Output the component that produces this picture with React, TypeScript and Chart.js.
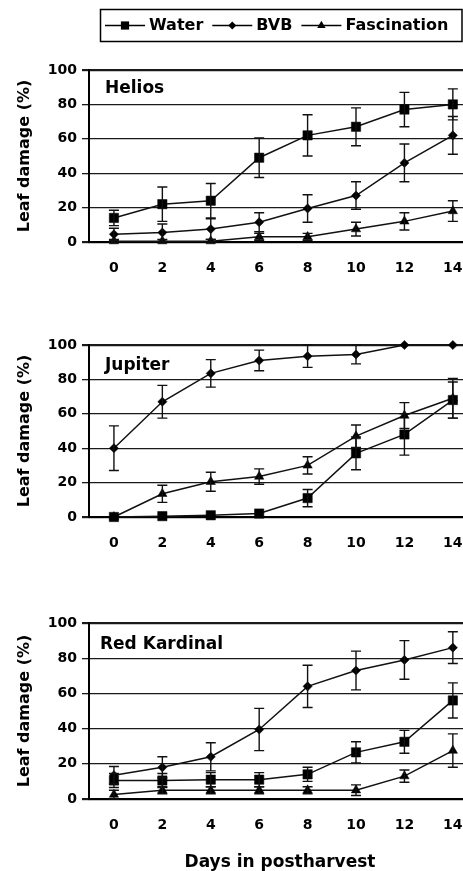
import React, { useEffect, useRef } from 'react';
import { Chart, registerables } from 'chart.js';
Chart.register(...registerables);

// ---------- data ----------
const days = [0, 2, 4, 6, 8, 10, 12, 14];
const yTicks = [0, 20, 40, 60, 80, 100];
const seriesNames = ['Water', 'BVB', 'Fascination'];
const panelNames = ['Helios', 'Jupiter', 'Red Kardinal'];
const xTitle = 'Days in postharvest';
const yTitle = 'Leaf damage (%)';

// Helios
const heliosWater = [14, 22, 24, 49, 62, 67, 77, 80];
const heliosWaterErr = [4.5, 10, 10, 11.5, 12, 11, 10, 9];
const heliosBVB = [4.5, 5.5, 7.5, 11.5, 19.5, 27, 46, 62];
const heliosBVBErr = [3.5, 5, 6, 5.5, 8, 8, 11, 11];
const heliosFasc = [0.5, 0.5, 0.5, 3, 3, 7.5, 12, 18];
const heliosFascErr = [1, 1, 1, 2, 2, 4, 5, 6];

// Jupiter
const jupiterWater = [0, 0.5, 1, 2, 11, 37, 48, 68];
const jupiterWaterErr = [0, 0, 0, 0, 5, 9.5, 12, 10.5];
const jupiterBVB = [40, 67, 83.5, 91, 93.5, 94.5, 100, 100];
const jupiterBVBErr = [13, 9.5, 8, 6, 6.5, 5.5, 0, 0];
const jupiterFasc = [0, 13.5, 20.5, 23.5, 30, 47, 59, 69];
const jupiterFascErr = [0, 5, 5.5, 4.5, 5, 6.5, 7.5, 11.5];

// Red Kardinal
const redWater = [10.5, 10.5, 11, 11, 14, 26.5, 32.5, 56];
const redWaterErr = [4, 4, 4, 4, 4, 6, 6.5, 10];
const redBVB = [13.5, 18, 24, 39.5, 64, 73, 79, 86];
const redBVBErr = [5, 6, 8, 12, 12, 11, 11, 9];
const redFasc = [2.5, 5, 5, 5, 5, 5, 13, 27.5];
const redFascErr = [2.5, 2, 2, 2, 2, 3, 3.5, 9.5];

// ---------- styles ----------
const FONT = '"DejaVu Sans", sans-serif';
const INK = '#111';
const pointStyles = ['rect', 'rectRot', 'triangle'];
const pointRadii = [6.6, 4.6, 5.4];
const legendRadii = [5.8, 4, 4.8];

type PanelCfg = {
  name: string;
  series: number[][];
  errors: number[][];
  top: number;
  height: number;
  padTop: number;
  axisH: number;
  nameDx: number;
  nameDy: number;
  legend: boolean;
  showXTitle: boolean;
};

const panels: PanelCfg[] = [
  {
    name: panelNames[0],
    series: [heliosWater, heliosBVB, heliosFasc],
    errors: [heliosWaterErr, heliosBVBErr, heliosFascErr],
    top: 0, height: 290, padTop: 70, axisH: 48, nameDx: 16, nameDy: 19,
    legend: true, showXTitle: false,
  },
  {
    name: panelNames[1],
    series: [jupiterWater, jupiterBVB, jupiterFasc],
    errors: [jupiterWaterErr, jupiterBVBErr, jupiterFascErr],
    top: 300, height: 260, padTop: 45, axisH: 43, nameDx: 16, nameDy: 21,
    legend: false, showXTitle: false,
  },
  {
    name: panelNames[2],
    series: [redWater, redBVB, redFasc],
    errors: [redWaterErr, redBVBErr, redFascErr],
    top: 600, height: 271, padTop: 23, axisH: 72, nameDx: 11, nameDy: 22,
    legend: false, showXTitle: true,
  },
];

function drawMarker(ctx: CanvasRenderingContext2D, style: string, x: number, y: number, r: number) {
  ctx.beginPath();
  if (style === 'rect') {
    const s = r * Math.SQRT1_2;
    ctx.rect(x - s, y - s, 2 * s, 2 * s);
  } else if (style === 'rectRot') {
    ctx.moveTo(x, y - r);
    ctx.lineTo(x + r, y);
    ctx.lineTo(x, y + r);
    ctx.lineTo(x - r, y);
    ctx.closePath();
  } else {
    ctx.moveTo(x, y - r);
    ctx.lineTo(x + r * 0.866, y + r * 0.5);
    ctx.lineTo(x - r * 0.866, y + r * 0.5);
    ctx.closePath();
  }
  ctx.fill();
}

const errorBarPlugin = {
  id: 'errorBars',
  afterDatasetsDraw(chart: any) {
    const ctx = chart.ctx as CanvasRenderingContext2D;
    const ys = chart.scales.y;
    ctx.save();
    ctx.strokeStyle = INK;
    ctx.lineWidth = 1.4;
    chart.data.datasets.forEach((ds: any, i: number) => {
      const meta = chart.getDatasetMeta(i);
      ds.data.forEach((pt: any, j: number) => {
        const e = ds.errorBars[j];
        if (!e) return;
        const x = meta.data[j].x;
        const y1 = ys.getPixelForValue(Math.min(100, pt.y + e));
        const y2 = ys.getPixelForValue(Math.max(0, pt.y - e));
        ctx.beginPath();
        ctx.moveTo(x, y1);
        ctx.lineTo(x, y2);
        ctx.moveTo(x - 5, y1);
        ctx.lineTo(x + 5, y1);
        ctx.moveTo(x - 5, y2);
        ctx.lineTo(x + 5, y2);
        ctx.stroke();
      });
    });
    ctx.restore();
  },
};

function Panel({ cfg }: { cfg: PanelCfg }) {
  const ref = useRef<HTMLCanvasElement>(null);
  useEffect(() => {
    if (!ref.current) return;
    const datasets = cfg.series.map((vals, k) => ({
      label: seriesNames[k],
      data: days.map((d, i) => ({ x: d, y: vals[i] })),
      errorBars: cfg.errors[k],
      borderColor: INK,
      backgroundColor: '#000',
      borderWidth: 1.5,
      pointStyle: pointStyles[k],
      pointRadius: pointRadii[k],
      pointHoverRadius: pointRadii[k],
      pointBackgroundColor: '#000',
      pointBorderColor: '#000',
      pointBorderWidth: 0.5,
      tension: 0,
      clip: false,
    }));

    const labelPlugin = {
      id: 'panelLabel',
      afterDraw(chart: any) {
        const ctx = chart.ctx as CanvasRenderingContext2D;
        const a = chart.chartArea;
        ctx.save();
        ctx.fillStyle = '#000';
        ctx.font = `bold 17px ${FONT}`;
        ctx.textBaseline = 'middle';
        ctx.textAlign = 'left';
        ctx.fillText(cfg.name, a.left + cfg.nameDx, a.top + cfg.nameDy);
        ctx.restore();
      },
    };

    const legendPlugin = {
      id: 'boxLegend',
      afterDraw(chart: any) {
        if (!cfg.legend) return;
        const ctx = chart.ctx as CanvasRenderingContext2D;
        ctx.save();
        ctx.strokeStyle = '#000';
        ctx.lineWidth = 1.5;
        ctx.strokeRect(100.5, 9.5, 361.5, 32);
        ctx.font = `bold 16px ${FONT}`;
        ctx.textBaseline = 'middle';
        ctx.textAlign = 'left';
        let x = 105;
        const y = 25.5;
        chart.data.datasets.forEach((ds: any, k: number) => {
          ctx.strokeStyle = '#000';
          ctx.lineWidth = 1.5;
          ctx.beginPath();
          ctx.moveTo(x, y);
          ctx.lineTo(x + 40, y);
          ctx.stroke();
          ctx.fillStyle = '#000';
          drawMarker(ctx, pointStyles[k], x + 20, y, legendRadii[k]);
          ctx.fillText(ds.label, x + 44, y);
          x += 44 + ctx.measureText(ds.label).width + 9;
        });
        ctx.restore();
      },
    };

    const chart = new Chart(ref.current, {
      type: 'line',
      data: { datasets } as any,
      options: {
        animation: false,
        responsive: false,
        maintainAspectRatio: false,
        events: [],
        layout: { padding: { top: cfg.padTop, bottom: 0, left: 0, right: 19 } },
        plugins: { legend: { display: false }, tooltip: { enabled: false } },
        scales: {
          x: {
            type: 'linear',
            min: -1.03,
            max: 14.75,
            afterBuildTicks: (s: any) => { s.ticks = days.map((v) => ({ value: v })); },
            afterFit: (s: any) => { s.height = cfg.axisH; },
            grid: { display: false },
            border: { display: true, color: '#000', width: 2 },
            ticks: {
              color: '#000',
              padding: 10,
              font: { family: FONT, size: 14, weight: 'bold' },
              callback: (v: any) => String(v),
            },
            title: {
              display: cfg.showXTitle,
              text: xTitle,
              color: '#000',
              font: { family: FONT, size: 17, weight: 'bold', lineHeight: 1 },
              padding: { top: 0, bottom: 0 },
            },
          },
          y: {
            type: 'linear',
            min: 0,
            max: 100,
            afterBuildTicks: (s: any) => { s.ticks = yTicks.map((v) => ({ value: v })); },
            afterFit: (s: any) => { s.width = 89; },
            grid: {
              color: '#1a1a1a',
              tickColor: '#1a1a1a',
              lineWidth: (c: any) => (c.tick && (c.tick.value === 0 || c.tick.value === 100) ? 2.2 : 1.3),
              drawTicks: true,
              tickLength: 7,
            },
            border: { display: true, color: '#000', width: 2 },
            ticks: {
              color: '#000',
              padding: 5,
              font: { family: FONT, size: 14, weight: 'bold' },
            },
            title: {
              display: true,
              text: yTitle,
              color: '#000',
              font: { family: FONT, size: 16, weight: 'bold', lineHeight: 1 },
              padding: { top: 17, bottom: 0 },
            },
          },
        },
      } as any,
      plugins: [errorBarPlugin, labelPlugin, legendPlugin],
    });
    return () => chart.destroy();
  }, [cfg]);

  return (
    <canvas
      ref={ref}
      width={490}
      height={cfg.height}
      style={{ position: 'absolute', left: 0, top: cfg.top, width: 490, height: cfg.height }}
    />
  );
}

export default function App() {
  return (
    <div
      style={{
        position: 'absolute',
        left: 0,
        top: 0,
        width: 463,
        height: 871,
        overflow: 'hidden',
        background: '#fff',
      }}
    >
      {panels.map((p) => (
        <Panel key={p.name} cfg={p} />
      ))}
    </div>
  );
}
